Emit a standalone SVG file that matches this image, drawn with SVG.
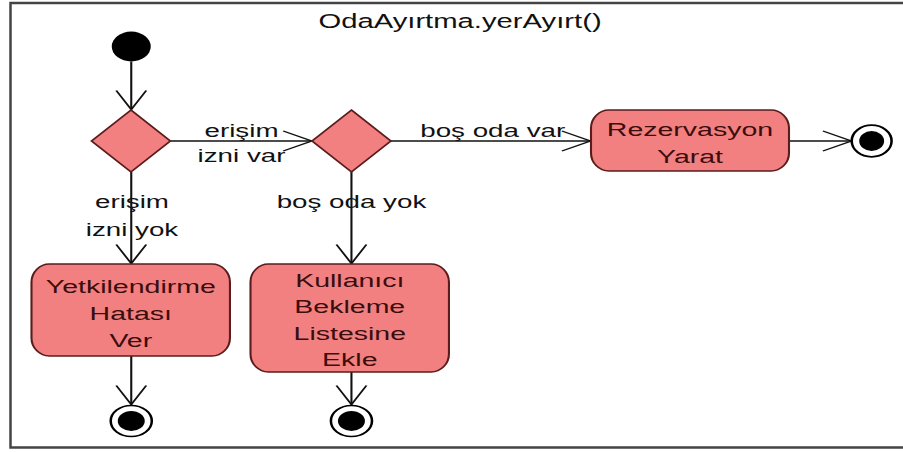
<svg xmlns="http://www.w3.org/2000/svg" width="903" height="452" viewBox="0 0 903 452">
  <style>
    .act { fill: #f28080; stroke: #5a1c1c; stroke-width: 1.4; }
    .dec { fill: #f28080; stroke: #5a1c1c; stroke-width: 1.4; }
    .start { fill: #000; }
    .endo { fill: #fff; stroke: #000; stroke-width: 1.7; }
    .endi { fill: #000; }
    .flow { fill: none; stroke: #111; stroke-width: 1.4; marker-end: url(#open); }
    text { font-family: "Liberation Sans", Arial, sans-serif; text-anchor: middle; }
    .lbl { font-size: 18.5px; fill: #111; }
    .atx { font-size: 19px; fill: #3b0d0d; }
    .ttl { font-size: 19.5px; fill: #111; }
  </style>
  <defs>
    <marker id="open" markerUnits="userSpaceOnUse" markerWidth="40" markerHeight="40" refX="0" refY="0" orient="auto" viewBox="-20 -20 40 40" overflow="visible">
      <path d="M-19,-10 L0,0 L-19,10" fill="none" stroke="#111" stroke-width="1.4"/>
    </marker>
  </defs>

  <!-- frame -->
  <path d="M903,3 H10.5 V447.5 H903" fill="none" stroke="#444" stroke-width="2.5"/>

  <!-- diagram is laid out at 2:3 horizontal scale -->
  <g transform="scale(1.5,1)">
    <text class="ttl" x="306.7" y="28">OdaAyırtma.yerAyırt()</text>

    <g id="connectors">
      <path class="flow" d="M87.5,61.5 V109.5"/>
      <path class="flow" d="M113.6,141 H207.8"/>
      <path class="flow" d="M260.6,141 H393.6"/>
      <path class="flow" d="M526,141 H567.6"/>
      <path class="flow" d="M87.5,172 V263.5"/>
      <path class="flow" d="M234.3,172 V263.5"/>
      <path class="flow" d="M87.5,356 V404.5"/>
      <path class="flow" d="M234.3,372 V404.5"/>
      <text class="lbl" x="161" y="137">erişim</text>
      <text class="lbl" x="161" y="162">izni var</text>
      <text class="lbl" x="328.5" y="137">boş oda var</text>
      <text class="lbl" x="88" y="208">erişim</text>
      <text class="lbl" x="88" y="236">izni yok</text>
      <text class="lbl" x="234.3" y="208">boş oda yok</text>
    </g>

    <g id="start">
      <ellipse class="start" cx="87.5" cy="46.5" rx="13" ry="15"/>
    </g>

    <g id="yetkiKontrol">
      <polygon class="dec" points="87.3,110 113.6,141 87.3,172 61,141"/>
    </g>

    <g id="odaKontrol">
      <polygon class="dec" points="234.3,110 260.6,141 234.3,172 208,141"/>
    </g>

    <g id="rezervasyonYarat">
      <rect class="act" x="394" y="110" width="132" height="61" rx="12" ry="18"/>
      <text class="atx" x="460" y="136">Rezervasyon</text>
      <text class="atx" x="460" y="163">Yarat</text>
    </g>

    <g id="yetkiHatasi">
      <rect class="act" x="21" y="264" width="132.3" height="92" rx="12" ry="18"/>
      <text class="atx" x="87.2" y="293">Yetkilendirme</text>
      <text class="atx" x="87.2" y="320">Hatası</text>
      <text class="atx" x="87.2" y="347">Ver</text>
    </g>

    <g id="beklemeListesi">
      <rect class="act" x="167" y="264" width="132.3" height="108" rx="12" ry="18"/>
      <text class="atx" x="233.2" y="287">Kullanıcı</text>
      <text class="atx" x="233.2" y="313">Bekleme</text>
      <text class="atx" x="233.2" y="340">Listesine</text>
      <text class="atx" x="233.2" y="366">Ekle</text>
    </g>

    <g id="bitis1">
      <ellipse class="endo" cx="581.1" cy="141" rx="13.3" ry="15.8"/>
      <ellipse class="endi" cx="581.1" cy="141" rx="8.3" ry="10"/>
    </g>

    <g id="bitis2">
      <ellipse class="endo" cx="87.5" cy="421" rx="13.7" ry="15.5"/>
      <ellipse class="endi" cx="87.5" cy="421" rx="9" ry="10"/>
    </g>

    <g id="bitis3">
      <ellipse class="endo" cx="234.3" cy="421" rx="13.7" ry="15.5"/>
      <ellipse class="endi" cx="234.3" cy="421" rx="9" ry="10"/>
    </g>
  </g>
</svg>
